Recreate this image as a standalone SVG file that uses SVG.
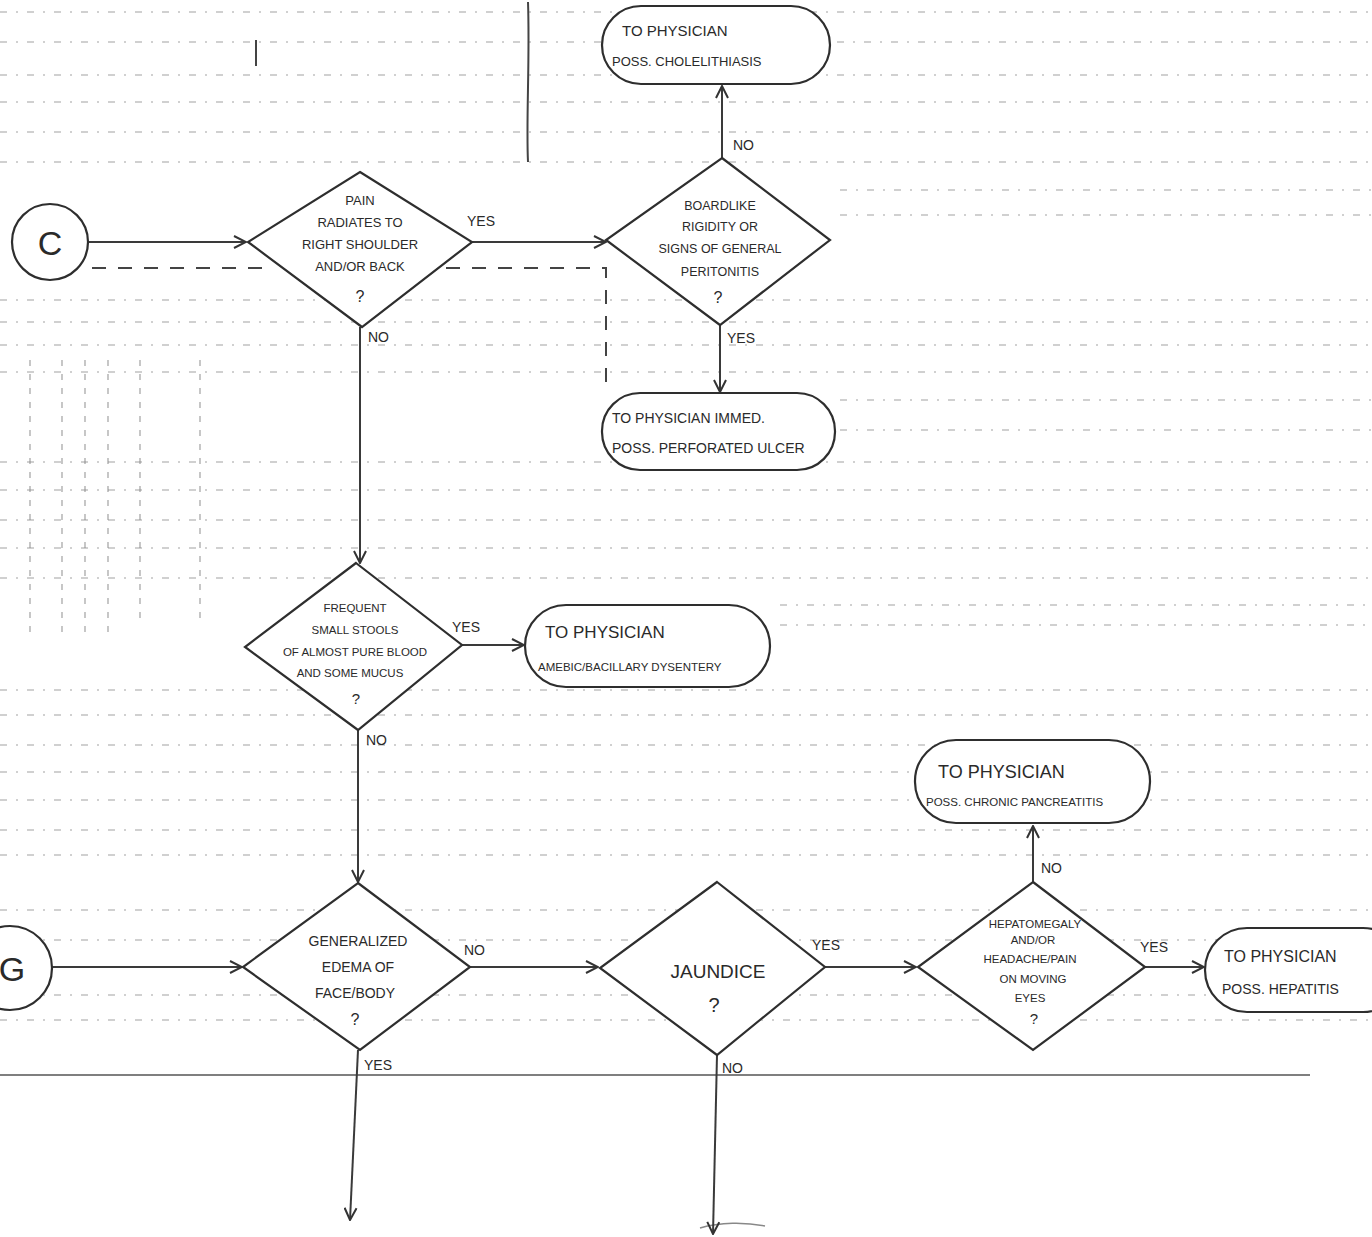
<svg xmlns="http://www.w3.org/2000/svg" width="1372" height="1237" viewBox="0 0 1372 1237">
<style>
.bg{stroke:#8a8a8a;stroke-width:1.2;stroke-dasharray:7 9 2 9;fill:none;opacity:.8}
.bgv{stroke:#8a8a8a;stroke-width:1.2;stroke-dasharray:6 8;fill:none;opacity:.8}
.shape{fill:#ffffff;stroke:#2e2e2e;stroke-width:2.2}
.edge{fill:none;stroke:#3a3a3a;stroke-width:2}
.dash{fill:none;stroke:#444;stroke-width:2;stroke-dasharray:14 12}
.t{font-family:"Liberation Sans",Arial,sans-serif;fill:#2a2a2a;text-anchor:middle}
.tl{font-family:"Liberation Sans",Arial,sans-serif;fill:#2a2a2a}
.lbl{font-family:"Liberation Sans",Arial,sans-serif;fill:#2a2a2a;font-size:14px}
</style>
<defs>
<marker id="arr" viewBox="0 0 14 14" refX="13" refY="7" markerWidth="14" markerHeight="14" markerUnits="userSpaceOnUse" orient="auto">
<path d="M1,1 L13,7 L1,13" fill="none" stroke="#333" stroke-width="2"/>
</marker>
</defs>
<rect width="1372" height="1237" fill="#ffffff"/>
<g id="background">
<path class="bg" d="M0,12H1372 M0,42H1372 M0,75H1372 M0,102H1372 M0,132H1372 M0,162H1372 M840,190H1372 M840,215H1372 M0,300H1372 M0,322H1372 M0,345H1372 M0,372H1372 M840,400H1372 M840,430H1372 M0,462H1372 M0,490H1372 M0,520H1372 M0,548H1372 M0,578H1372 M780,605H1372 M780,625H1372 M0,690H1372 M0,715H1372 M0,745H1372 M0,772H1372 M0,800H1372 M0,830H1372 M0,855H1372 M0,910H1372 M0,940H1372 M0,995H1372 M0,1020H1372"/>
<path class="bgv" d="M30,360V640 M62,360V640 M85,360V640 M108,360V640 M140,360V620 M200,360V620"/>
<path d="M0,1075H1310" stroke="#555" stroke-width="1.5" fill="none"/>
<path d="M256,40V66 M528,2C530,60 526,120 528,162" stroke="#444" stroke-width="2" fill="none"/>
<path d="M700,1228C720,1222 745,1222 765,1226" stroke="#888" stroke-width="1.5" fill="none"/>
</g>
<g id="connectors">
<path class="edge" d="M88,242H246" marker-end="url(#arr)"/>
<path class="edge" d="M472,242H606" marker-end="url(#arr)"/>
<path class="edge" d="M722,158V86" marker-end="url(#arr)"/>
<path class="edge" d="M720,325V392" marker-end="url(#arr)"/>
<path class="edge" d="M360,327V563" marker-end="url(#arr)"/>
<path class="edge" d="M462,645H524" marker-end="url(#arr)"/>
<path class="edge" d="M358,730V882" marker-end="url(#arr)"/>
<path class="edge" d="M52,967H242" marker-end="url(#arr)"/>
<path class="edge" d="M470,967H598" marker-end="url(#arr)"/>
<path class="edge" d="M825,967H916" marker-end="url(#arr)"/>
<path class="edge" d="M1033,882V826" marker-end="url(#arr)"/>
<path class="edge" d="M1145,967H1204" marker-end="url(#arr)"/>
<path class="edge" d="M358,1050L350,1220" marker-end="url(#arr)"/>
<path class="edge" d="M717,1055L713,1234" marker-end="url(#arr)"/>
<path class="dash" d="M92,268H262 M446,268H606V385"/>
<text class="lbl" x="467" y="226">YES</text>
<text class="lbl" x="733" y="150">NO</text>
<text class="lbl" x="727" y="343">YES</text>
<text class="lbl" x="368" y="342">NO</text>
<text class="lbl" x="452" y="632">YES</text>
<text class="lbl" x="366" y="745">NO</text>
<text class="lbl" x="464" y="955">NO</text>
<text class="lbl" x="812" y="950">YES</text>
<text class="lbl" x="1041" y="873">NO</text>
<text class="lbl" x="1140" y="952">YES</text>
<text class="lbl" x="364" y="1070">YES</text>
<text class="lbl" x="722" y="1073">NO</text>
</g>
<g id="node-c">
<circle class="shape" cx="50" cy="242" r="38"/>
<text class="t" x="50" y="255" font-size="34">C</text>
</g>
<g id="node-g">
<circle class="shape" cx="10" cy="968" r="42"/>
<text class="t" x="12" y="981" font-size="34">G</text>
</g>
<g id="node-pain">
<path class="shape" d="M360,172L472,242L362,327L248,242Z"/>
<text class="t" font-size="13"><tspan x="360" y="205">PAIN</tspan><tspan x="360" y="227">RADIATES TO</tspan><tspan x="360" y="249">RIGHT SHOULDER</tspan><tspan x="360" y="271">AND/OR BACK</tspan><tspan x="360" y="302" font-size="16">?</tspan></text>
</g>
<g id="node-boardlike">
<path class="shape" d="M722,158L830,240L720,325L606,240Z"/>
<text class="t" font-size="12.5"><tspan x="720" y="210">BOARDLIKE</tspan><tspan x="720" y="231">RIGIDITY OR</tspan><tspan x="720" y="253">SIGNS OF GENERAL</tspan><tspan x="720" y="276">PERITONITIS</tspan><tspan x="718" y="303" font-size="16">?</tspan></text>
</g>
<g id="node-cholelithiasis">
<rect class="shape" x="602" y="6" width="228" height="78" rx="39"/>
<text class="tl" x="622" y="36" font-size="15">TO PHYSICIAN</text>
<text class="tl" x="612" y="66" font-size="13">POSS. CHOLELITHIASIS</text>
</g>
<g id="node-ulcer">
<rect class="shape" x="602" y="393" width="233" height="77" rx="38"/>
<text class="tl" x="612" y="423" font-size="14">TO PHYSICIAN IMMED.</text>
<text class="tl" x="612" y="453" font-size="14">POSS. PERFORATED ULCER</text>
</g>
<g id="node-stools">
<path class="shape" d="M356,563L462,645L358,730L245,647Z"/>
<text class="t" font-size="11.5"><tspan x="355" y="612">FREQUENT</tspan><tspan x="355" y="634">SMALL STOOLS</tspan><tspan x="355" y="656">OF ALMOST PURE BLOOD</tspan><tspan x="350" y="677">AND SOME MUCUS</tspan><tspan x="356" y="704" font-size="15">?</tspan></text>
</g>
<g id="node-dysentery">
<rect class="shape" x="525" y="605" width="245" height="82" rx="41"/>
<text class="tl" x="545" y="638" font-size="17">TO PHYSICIAN</text>
<text class="tl" x="538" y="671" font-size="11.5">AMEBIC/BACILLARY DYSENTERY</text>
</g>
<g id="node-edema">
<path class="shape" d="M358,883L470,967L360,1050L243,967Z"/>
<text class="t" font-size="14"><tspan x="358" y="946">GENERALIZED</tspan><tspan x="358" y="972">EDEMA OF</tspan><tspan x="355" y="998">FACE/BODY</tspan><tspan x="355" y="1025" font-size="16">?</tspan></text>
</g>
<g id="node-jaundice">
<path class="shape" d="M717,882L825,967L717,1055L600,968Z"/>
<text class="t" font-size="19"><tspan x="718" y="978">JAUNDICE</tspan><tspan x="714" y="1012" font-size="20">?</tspan></text>
</g>
<g id="node-hepatomegaly">
<path class="shape" d="M1033,882L1145,967L1033,1050L918,967Z"/>
<text class="t" font-size="11.5"><tspan x="1035" y="928">HEPATOMEGALY</tspan><tspan x="1033" y="944">AND/OR</tspan><tspan x="1030" y="963">HEADACHE/PAIN</tspan><tspan x="1033" y="983">ON MOVING</tspan><tspan x="1030" y="1002">EYES</tspan><tspan x="1034" y="1024" font-size="15">?</tspan></text>
</g>
<g id="node-pancreatitis">
<rect class="shape" x="915" y="740" width="235" height="83" rx="41"/>
<text class="tl" x="938" y="778" font-size="18">TO PHYSICIAN</text>
<text class="tl" x="926" y="806" font-size="11.5">POSS. CHRONIC PANCREATITIS</text>
</g>
<g id="node-hepatitis">
<rect class="shape" x="1205" y="928" width="200" height="84" rx="42"/>
<text class="tl" x="1224" y="962" font-size="16">TO PHYSICIAN</text>
<text class="tl" x="1222" y="994" font-size="14">POSS. HEPATITIS</text>
</g>
</svg>
